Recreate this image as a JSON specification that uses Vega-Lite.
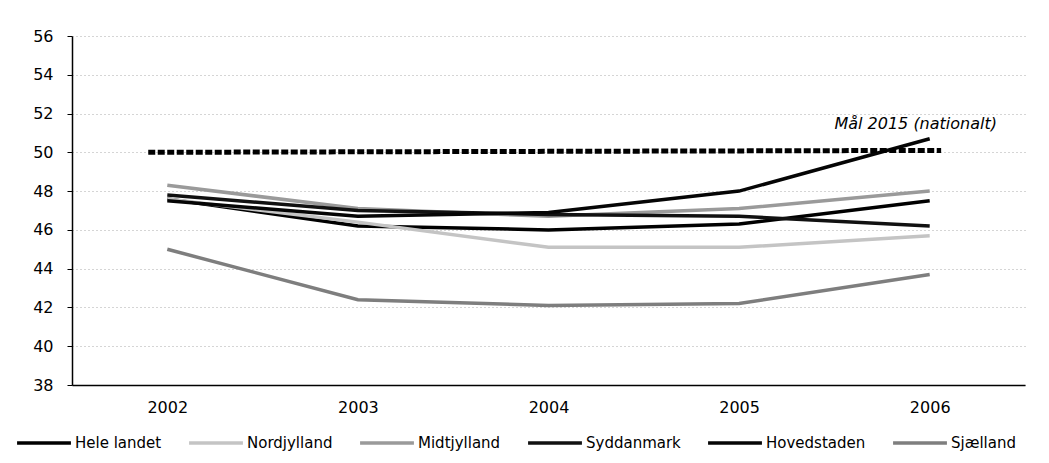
{
  "$schema": "https://vega.github.io/schema/vega-lite/v6.json",
  "width": 953,
  "height": 349,
  "autosize": {"type": "none"},
  "padding": {"left": 72, "top": 36, "right": 24, "bottom": 78},
  "background": "white",
  "config": {
    "view": {"stroke": null},
    "font": "DejaVu Sans",
    "axis": {"labelFont": "DejaVu Sans", "labelColor": "#000"},
    "legend": {"labelFont": "DejaVu Sans", "labelColor": "#000"}
  },
  "datasets": {
    "series": [
      {"year": 2002, "region": "Hele landet", "value": 47.6},
      {"year": 2003, "region": "Hele landet", "value": 46.2},
      {"year": 2004, "region": "Hele landet", "value": 46.0},
      {"year": 2005, "region": "Hele landet", "value": 46.3},
      {"year": 2006, "region": "Hele landet", "value": 47.5},
      {"year": 2002, "region": "Nordjylland", "value": 47.6},
      {"year": 2003, "region": "Nordjylland", "value": 46.4},
      {"year": 2004, "region": "Nordjylland", "value": 45.1},
      {"year": 2005, "region": "Nordjylland", "value": 45.1},
      {"year": 2006, "region": "Nordjylland", "value": 45.7},
      {"year": 2002, "region": "Midtjylland", "value": 48.3},
      {"year": 2003, "region": "Midtjylland", "value": 47.1},
      {"year": 2004, "region": "Midtjylland", "value": 46.7},
      {"year": 2005, "region": "Midtjylland", "value": 47.1},
      {"year": 2006, "region": "Midtjylland", "value": 48.0},
      {"year": 2002, "region": "Syddanmark", "value": 47.8},
      {"year": 2003, "region": "Syddanmark", "value": 47.0},
      {"year": 2004, "region": "Syddanmark", "value": 46.8},
      {"year": 2005, "region": "Syddanmark", "value": 46.7},
      {"year": 2006, "region": "Syddanmark", "value": 46.2},
      {"year": 2002, "region": "Hovedstaden", "value": 47.5},
      {"year": 2003, "region": "Hovedstaden", "value": 46.7},
      {"year": 2004, "region": "Hovedstaden", "value": 46.9},
      {"year": 2005, "region": "Hovedstaden", "value": 48.0},
      {"year": 2006, "region": "Hovedstaden", "value": 50.7},
      {"year": 2002, "region": "Sjælland", "value": 45.0},
      {"year": 2003, "region": "Sjælland", "value": 42.4},
      {"year": 2004, "region": "Sjælland", "value": 42.1},
      {"year": 2005, "region": "Sjælland", "value": 42.2},
      {"year": 2006, "region": "Sjælland", "value": 43.7}
    ],
    "goal": [
      {"year": 2001.9, "value": 50.0},
      {"year": 2006.06, "value": 50.1}
    ],
    "goalLabel": [
      {"year": 2006, "value": 50.0, "text": "Mål 2015 (nationalt)"}
    ]
  },
  "encoding": {
    "x": {
      "field": "year", "type": "quantitative",
      "scale": {"domain": [2001.5, 2006.5], "nice": false, "zero": false},
      "axis": {
        "values": [2002, 2003, 2004, 2005, 2006], "format": "d", "title": null,
        "grid": false, "ticks": false, "domainColor": "#000", "domainWidth": 1.5,
        "labelFontSize": 16, "labelPadding": 14, "labelOverlap": false
      }
    },
    "y": {
      "field": "value", "type": "quantitative",
      "scale": {"domain": [38, 56], "nice": false, "zero": false},
      "axis": {
        "values": [38, 40, 42, 44, 46, 48, 50, 52, 54, 56], "tickCount": 10, "title": null,
        "grid": true, "gridColor": "#aaa", "gridDash": [1, 3], "gridWidth": 1,
        "domainColor": "#000", "domainWidth": 1.5, "tickColor": "#000", "tickSize": 5,
        "labelFontSize": 16, "labelPadding": 14, "labelOverlap": false, "labelBound": false
      }
    }
  },
  "layer": [
    {
      "data": {"name": "series"},
      "mark": {"type": "line", "strokeWidth": 3.5},
      "encoding": {
        "color": {
          "field": "region", "type": "nominal",
          "scale": {
            "domain": ["Hele landet", "Nordjylland", "Midtjylland", "Syddanmark", "Hovedstaden", "Sjælland"],
            "range": ["#000000", "#c4c4c4", "#9a9a9a", "#111111", "#050505", "#7e7e7e"]
          },
          "legend": {
            "title": null, "orient": "none", "legendX": -57, "legendY": 378,
            "direction": "horizontal", "columns": 6, "symbolType": "stroke",
            "symbolSize": 2900, "symbolStrokeWidth": 3.5, "labelFontSize": 15,
            "labelOffset": 2, "columnPadding": 20
          }
        }
      }
    },
    {
      "data": {"name": "goal"},
      "mark": {"type": "line", "color": "#000", "strokeWidth": 5, "strokeDash": [7, 2.5]},
      "encoding": {}
    },
    {
      "data": {"name": "goalLabel"},
      "mark": {"type": "text", "fontStyle": "italic", "fontSize": 16, "dx": -14, "dy": -23, "align": "center", "baseline": "alphabetic", "color": "#000"},
      "encoding": {
        "text": {"field": "text"}
      }
    }
  ]
}
